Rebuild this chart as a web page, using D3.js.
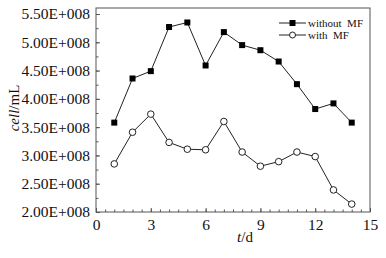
<!DOCTYPE html>
<html><head><meta charset="utf-8">
<script src="https://cdn.jsdelivr.net/npm/d3@7"></script>
<style>html,body{margin:0;padding:0;background:#fff;}svg{display:block;}</style>
</head><body>
<svg id="c" width="386" height="258"></svg>
<script>
const days = [1,2,3,4,5,6,7,8,9,10,11,12,13,14];
const withoutMF = [3.58e8,4.36e8,4.49e8,5.27e8,5.35e8,4.59e8,5.18e8,4.95e8,4.86e8,4.66e8,4.26e8,3.82e8,3.92e8,3.58e8];
const withMF = [2.85e8,3.41e8,3.73e8,3.23e8,3.11e8,3.10e8,3.60e8,3.06e8,2.81e8,2.89e8,3.06e8,2.98e8,2.39e8,2.14e8];
const xTicks = [0,3,6,9,12,15];
const yTicks = [2.0e8,2.5e8,3.0e8,3.5e8,4.0e8,4.5e8,5.0e8,5.5e8];
const seriesNames = ["without\u00a0\u00a0MF","with\u00a0\u00a0MF"];

const svg = d3.select("#c");
const L = 96, R = 370, T = 8, B = 212;
const x = d3.scaleLinear().domain([0,15]).range([L,R]);
const y = d3.scaleLinear().domain([2.0e8,5.5e8]).range([B,14]);
const font = "'Liberation Serif','Times New Roman',serif";
const axColor = "#555";

// frame
svg.append("rect").attr("x",L).attr("y",T).attr("width",R-L).attr("height",B-T)
  .attr("fill","none").attr("stroke",axColor).attr("stroke-width",1);

// x axis
const xMinor = d3.range(0,15.01,0.5);
svg.append("g").attr("transform",`translate(0,${B})`)
  .call(d3.axisBottom(x).tickValues(xMinor).tickSize(-2.5).tickFormat(""))
  .call(g=>g.select(".domain").remove())
  .call(g=>g.selectAll("line").attr("stroke",axColor));
svg.append("g").attr("transform",`translate(0,${B})`)
  .call(d3.axisBottom(x).tickValues(xTicks).tickSize(-4).tickPadding(7).tickFormat(d3.format("d")))
  .call(g=>g.select(".domain").remove())
  .call(g=>g.selectAll("line").attr("stroke",axColor))
  .call(g=>g.selectAll("text").attr("font-family",font).attr("font-size","15.5px").attr("fill","#111"));

// y axis
const yMinor = d3.range(2.0e8,5.51e8,0.25e8);
svg.append("g").attr("transform",`translate(${L},0)`)
  .call(d3.axisLeft(y).tickValues(yMinor).tickSize(-2.5).tickFormat(""))
  .call(g=>g.select(".domain").remove())
  .call(g=>g.selectAll("line").attr("stroke",axColor));
const fmtE = v => (v/1e8).toFixed(2)+"E+008";
svg.append("g").attr("transform",`translate(${L},0)`)
  .call(d3.axisLeft(y).tickValues(yTicks).tickSize(-4).tickPadding(6).tickFormat(fmtE))
  .call(g=>g.select(".domain").remove())
  .call(g=>g.selectAll("line").attr("stroke",axColor))
  .call(g=>g.selectAll("text").attr("font-family",font).attr("font-size","15.5px").attr("fill","#111"));

// axis titles
const yl = svg.append("text").attr("transform","translate(19,108) rotate(-90)")
  .attr("text-anchor","middle").attr("font-family",font).attr("font-size","15px").attr("fill","#111");
yl.append("tspan").attr("font-style","italic").text("cell");
yl.append("tspan").text("/mL");
const xl = svg.append("text").attr("x",245).attr("y",242)
  .attr("text-anchor","middle").attr("font-family",font).attr("font-size","15px").attr("fill","#111");
xl.append("tspan").attr("font-style","italic").text("t");
xl.append("tspan").text("/d");

// lines
const line = d3.line().x(d=>x(d[0])).y(d=>y(d[1]));
const s1 = days.map((d,i)=>[d,withoutMF[i]]);
const s2 = days.map((d,i)=>[d,withMF[i]]);
svg.append("path").datum(s1).attr("d",line).attr("fill","none").attr("stroke","#222").attr("stroke-width",1);
svg.append("path").datum(s2).attr("d",line).attr("fill","none").attr("stroke","#222").attr("stroke-width",1);
svg.selectAll(".sq").data(s1).enter().append("rect")
  .attr("x",d=>x(d[0])-3).attr("y",d=>y(d[1])-3).attr("width",6).attr("height",6).attr("fill","#000");
svg.selectAll(".ci").data(s2).enter().append("circle")
  .attr("cx",d=>x(d[0])).attr("cy",d=>y(d[1])).attr("r",3.3).attr("fill","#fff").attr("stroke","#222").attr("stroke-width",1);

// legend
const lg = svg.append("g");
[0,1].forEach(i=>{
  const yy = 23 + i*12;
  lg.append("line").attr("x1",279).attr("x2",306).attr("y1",yy).attr("y2",yy).attr("stroke","#222");
  if(i===0) lg.append("rect").attr("x",289.5).attr("y",yy-3).attr("width",6).attr("height",6).attr("fill","#000");
  else lg.append("circle").attr("cx",292.5).attr("cy",yy).attr("r",3).attr("fill","#fff").attr("stroke","#222");
  lg.append("text").attr("x",308).attr("y",yy+3.8).attr("font-family",font).attr("font-size","11px")
    .attr("fill","#111").text(seriesNames[i]);
});
</script>
</body></html>
